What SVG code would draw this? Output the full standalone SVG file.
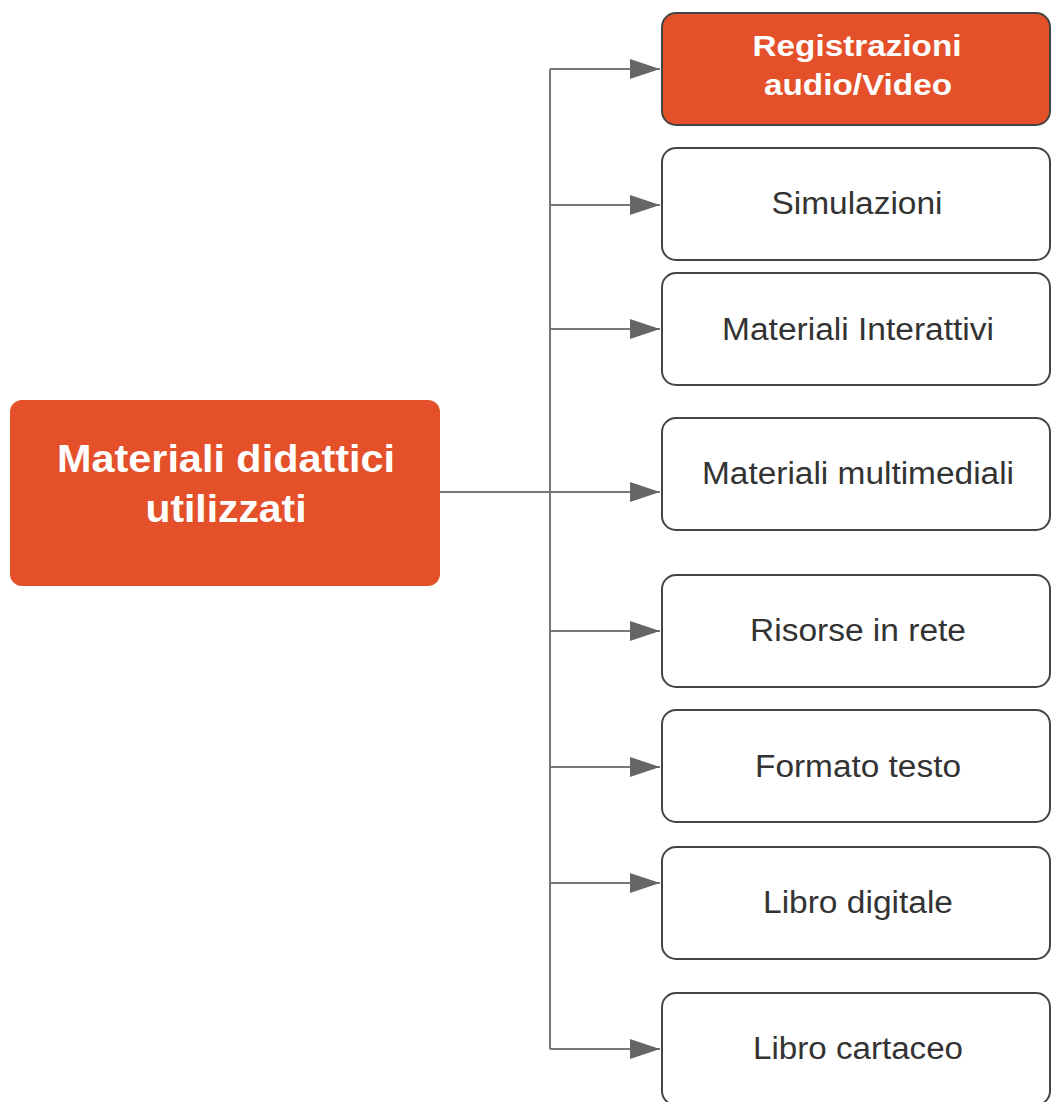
<svg xmlns="http://www.w3.org/2000/svg" width="1051" height="1102" viewBox="0 0 1051 1102">
<style>
.box{fill:#fff;stroke:#444;stroke-width:2}
.hot{fill:#E4502A;stroke:#444;stroke-width:2}
.main{fill:#E4502A}
.t{font-family:"Liberation Sans",Arial,sans-serif;font-size:31px;fill:#333;text-anchor:middle}
.w{font-family:"Liberation Sans",Arial,sans-serif;font-size:30px;font-weight:bold;fill:#fff;text-anchor:middle}
.mw{font-family:"Liberation Sans",Arial,sans-serif;font-size:38px;font-weight:bold;fill:#fff;text-anchor:middle}
.c{fill:none;stroke:#777;stroke-width:2}
</style>
<defs>
<marker id="ah" markerUnits="userSpaceOnUse" markerWidth="32" markerHeight="22" refX="30" refY="11" orient="auto">
<path d="M0,1 L30,11 L0,21 Z" fill="#666"/>
</marker>
</defs>
<rect width="1051" height="1102" fill="#fff"/>
<g id="connectors">
<line class="c" x1="440" y1="492" x2="550" y2="492"/>
<line class="c" x1="550" y1="69" x2="550" y2="1049"/>
<line class="c" x1="550" y1="69" x2="660" y2="69" marker-end="url(#ah)"/>
<line class="c" x1="550" y1="205" x2="660" y2="205" marker-end="url(#ah)"/>
<line class="c" x1="550" y1="329" x2="660" y2="329" marker-end="url(#ah)"/>
<line class="c" x1="550" y1="492" x2="660" y2="492" marker-end="url(#ah)"/>
<line class="c" x1="550" y1="631" x2="660" y2="631" marker-end="url(#ah)"/>
<line class="c" x1="550" y1="767" x2="660" y2="767" marker-end="url(#ah)"/>
<line class="c" x1="550" y1="883" x2="660" y2="883" marker-end="url(#ah)"/>
<line class="c" x1="550" y1="1049" x2="660" y2="1049" marker-end="url(#ah)"/>
</g>
<g id="n-main">
<rect class="main" x="10" y="400" width="430" height="186" rx="12"/>
<text class="mw" x="226" y="472" textLength="338" lengthAdjust="spacingAndGlyphs">Materiali didattici</text>
<text class="mw" x="226" y="522" textLength="161" lengthAdjust="spacingAndGlyphs">utilizzati</text>
</g>
<g id="n-registrazioni">
<rect class="hot" x="662" y="13" width="388" height="112" rx="14"/>
<text class="w" x="857" y="56" textLength="209" lengthAdjust="spacingAndGlyphs">Registrazioni</text>
<text class="w" x="858" y="95" textLength="188" lengthAdjust="spacingAndGlyphs">audio/Video</text>
</g>
<g id="n-simulazioni">
<rect class="box" x="662" y="148" width="388" height="112" rx="14"/>
<text class="t" x="857" y="214" textLength="171" lengthAdjust="spacingAndGlyphs">Simulazioni</text>
</g>
<g id="n-interattivi">
<rect class="box" x="662" y="273" width="388" height="112" rx="14"/>
<text class="t" x="858" y="340" textLength="272" lengthAdjust="spacingAndGlyphs">Materiali Interattivi</text>
</g>
<g id="n-multimediali">
<rect class="box" x="662" y="418" width="388" height="112" rx="14"/>
<text class="t" x="858" y="484" textLength="312" lengthAdjust="spacingAndGlyphs">Materiali multimediali</text>
</g>
<g id="n-risorse">
<rect class="box" x="662" y="575" width="388" height="112" rx="14"/>
<text class="t" x="858" y="641" textLength="216" lengthAdjust="spacingAndGlyphs">Risorse in rete</text>
</g>
<g id="n-formato">
<rect class="box" x="662" y="710" width="388" height="112" rx="14"/>
<text class="t" x="858" y="777" textLength="206" lengthAdjust="spacingAndGlyphs">Formato testo</text>
</g>
<g id="n-digitale">
<rect class="box" x="662" y="847" width="388" height="112" rx="14"/>
<text class="t" x="858" y="913" textLength="190" lengthAdjust="spacingAndGlyphs">Libro digitale</text>
</g>
<g id="n-cartaceo">
<rect class="box" x="662" y="993" width="388" height="112" rx="14"/>
<text class="t" x="858" y="1059" textLength="210" lengthAdjust="spacingAndGlyphs">Libro cartaceo</text>
</g>
</svg>
